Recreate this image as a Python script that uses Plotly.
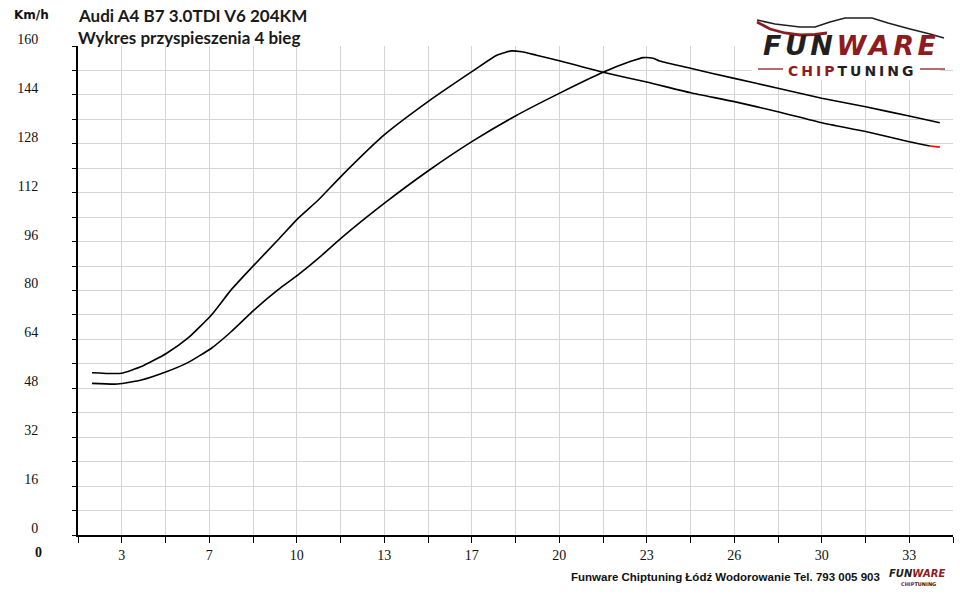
import plotly.graph_objects as go

# Etykiety osi X (co druga linia siatki), krok siatki 5/3
x_labels = ["3", "7", "10", "13", "17", "20", "23", "26", "30", "33"]
x_step = 5 / 3
# Oś Y co 8 km/h, opis co 16
y_step = 8
y_max = 160

# Krzywa 1 (wcześniejszy szczyt)
x_a = [2.2, 3.32, 4.08, 5.03, 5.85, 6.75, 7.5, 8.37, 9.28, 10.05, 10.82, 11.67,
       13.33, 15.0, 16.67, 17.62, 18.18, 18.57, 19.13, 20.0, 21.67, 23.33, 25.0,
       26.67, 28.33, 30.0, 31.67, 33.33, 34.12]
y_a = [53.1, 52.9, 55.1, 59.4, 64.4, 72.0, 80.2, 88.3, 96.5, 103.6, 109.6, 117.2,
       130.9, 141.8, 151.6, 157.0, 158.4, 158.1, 157.0, 155.2, 151.4, 148.2, 144.7,
       141.8, 138.5, 134.9, 132.0, 128.7, 127.3]
# czerwona końcówka krzywej 1
x_a_end = [34.12, 34.5]
y_a_end = [127.3, 126.9]

# Krzywa 2 (późniejszy szczyt)
x_b = [2.2, 3.18, 4.08, 5.03, 5.85, 6.75, 7.5, 8.37, 9.28, 10.05, 10.82, 11.67,
       13.33, 15.0, 16.67, 18.33, 20.0, 21.67, 22.7, 23.2, 23.58, 23.83, 25.0,
       26.67, 28.33, 30.0, 31.67, 33.33, 34.5]
y_b = [49.6, 49.4, 50.7, 53.4, 56.4, 61.1, 66.5, 73.6, 80.2, 85.1, 90.5, 97.0,
       108.5, 119.1, 128.7, 137.1, 144.5, 151.4, 154.9, 156.2, 156.0, 155.1, 152.7,
       149.4, 146.2, 142.9, 140.1, 137.1, 134.9]

W, H = 960, 595
PX0, PX1, PY0, PY1 = 78, 953, 46, 535   # obszar wykresu w pikselach
L, R, T, B = PX0, W - PX1, PY0, H - PY1


def px(x):
    return (x - PX0) / (PX1 - PX0)


def py(y):
    return (PY1 - y) / (PY1 - PY0)


fig = go.Figure()

line = dict(color="black", width=1.6, shape="spline", smoothing=0.5)
fig.add_trace(go.Scatter(x=x_a, y=y_a, mode="lines", line=line, hoverinfo="skip"))
fig.add_trace(go.Scatter(x=x_b, y=y_b, mode="lines", line=line, hoverinfo="skip"))
fig.add_trace(go.Scatter(x=x_a_end, y=y_a_end, mode="lines",
                         line=dict(color="red", width=1.6), hoverinfo="skip"))

# ticki osi X
x_tickvals = [x_step * (k + 1) for k in range(21)]
x_ticktext = [x_labels[(k - 1) // 2] if k % 2 == 1 else "" for k in range(21)]
y_tickvals = list(range(0, y_max + 1, y_step))
y_ticktext = [str(v) if v % 16 == 0 else "" for v in y_tickvals]

tick_font = dict(family="Liberation Serif", size=14, color="#111111")

fig.update_xaxes(
    range=[x_tickvals[0], x_tickvals[-1]],
    tickvals=x_tickvals, ticktext=x_ticktext,
    showgrid=True, gridcolor="#d4d4d4", gridwidth=1,
    showline=True, linecolor="black", linewidth=2,
    ticks="outside", ticklen=6, tickcolor="black", tickwidth=1,
    tickfont=tick_font, zeroline=False, fixedrange=True, automargin=False,
)
fig.update_yaxes(
    range=[0, y_max],
    tickvals=y_tickvals, ticktext=y_ticktext,
    showgrid=True, gridcolor="#d4d4d4", gridwidth=1,
    showline=True, linecolor="black", linewidth=2,
    ticks="outside", ticklen=4, tickcolor="black", tickwidth=1,
    tickfont=tick_font, ticklabelshift=-7, ticklabelstandoff=31,
    zeroline=False, fixedrange=True, automargin=False,
)

dark = "#231f20"
red = "#8e1b1e"

annotations = [
    dict(x=px(31), y=py(15), text="<b>Km/h</b>",
         font=dict(family="DejaVu Sans", size=12, color="#111111")),
    dict(x=px(38), y=py(552), text="<b>0</b>", font=tick_font),
    dict(x=px(76), y=py(15), xanchor="left", text="<b>Audi A4 B7 3.0TDI V6 204KM</b>",
         font=dict(family="Lato", size=17, color="#1a1a1a")),
    dict(x=px(76), y=py(38), xanchor="left", text="<b>Wykres przyspieszenia 4 bieg</b>",
         font=dict(family="Lato", size=17, color="#1a1a1a")),
    # logo
    dict(x=px(851), y=py(62), yanchor="bottom", borderpad=0,
         text=f"<b><i><span style='letter-spacing:3.5px'>FUN<span style='color:{red}'>WARE</span></span></i></b>",
         font=dict(family="DejaVu Sans", size=27, color=dark)),
    dict(x=px(852), y=py(62), yanchor="top", borderpad=0,
         text=f"<b><span style='letter-spacing:3px'><span style='color:{red}'>CHIP</span>TUNING</span></b>",
         font=dict(family="DejaVu Sans", size=14, color=dark)),
    # stopka
    dict(x=px(725), y=py(577),
         text="<b>Funware Chiptuning Łódź Wodorowanie Tel. 793 005 903</b>",
         font=dict(family="Liberation Sans", size=11.5, color="#111111")),
    dict(x=px(917), y=py(580), yanchor="bottom", borderpad=0,
         text=f"<b><i>FUN<span style='color:{red}'>WARE</span></i></b>",
         font=dict(family="DejaVu Sans", size=10, color=dark)),
    dict(x=px(918), y=py(580), yanchor="top", borderpad=0,
         text=f"<b><span style='color:{red}'>CHIP</span>TUNING</b>",
         font=dict(family="DejaVu Sans", size=5, color=dark)),
]
for a in annotations:
    a.update(xref="paper", yref="paper", showarrow=False)
    a.setdefault("xanchor", "center")
    a.setdefault("yanchor", "middle")


def path(points):
    return "M " + " L ".join(f"{px(x):.4f},{py(y):.4f}" for x, y in points)


shapes = [
    dict(type="rect", xref="paper", yref="paper", x0=px(752), x1=px(940),
         y0=py(80), y1=py(8), fillcolor="white", line=dict(width=0), layer="above"),
    # sylwetka auta
    dict(type="path", xref="paper", yref="paper", layer="above",
         path=path([(757, 20), (775, 24), (800, 27), (815, 27), (830, 22), (845, 18),
                    (872, 18), (888, 23), (910, 29), (930, 34), (944, 38)]),
         line=dict(color=dark, width=1.6)),
    dict(type="path", xref="paper", yref="paper", layer="above",
         path=path([(757, 22), (770, 29), (785, 33), (800, 35), (815, 34.5), (827, 33)]),
         line=dict(color=red, width=2.8)),
    dict(type="line", xref="paper", yref="paper", layer="above",
         x0=px(758), x1=px(783), y0=py(69), y1=py(69), line=dict(color=red, width=1.3)),
    dict(type="line", xref="paper", yref="paper", layer="above",
         x0=px(920), x1=px(945), y0=py(69), y1=py(69), line=dict(color=red, width=1.3)),
]

fig.update_layout(
    width=W, height=H,
    margin=dict(l=L, r=R, t=T, b=B),
    paper_bgcolor="white", plot_bgcolor="white",
    showlegend=False,
    annotations=annotations,
    shapes=shapes,
)

# bez domyślnego marginesu strony, żeby wykres zajmował całe okno
fig.write_html("out.html", config={"displayModeBar": False},
               post_script="document.body.style.margin = '0';")
